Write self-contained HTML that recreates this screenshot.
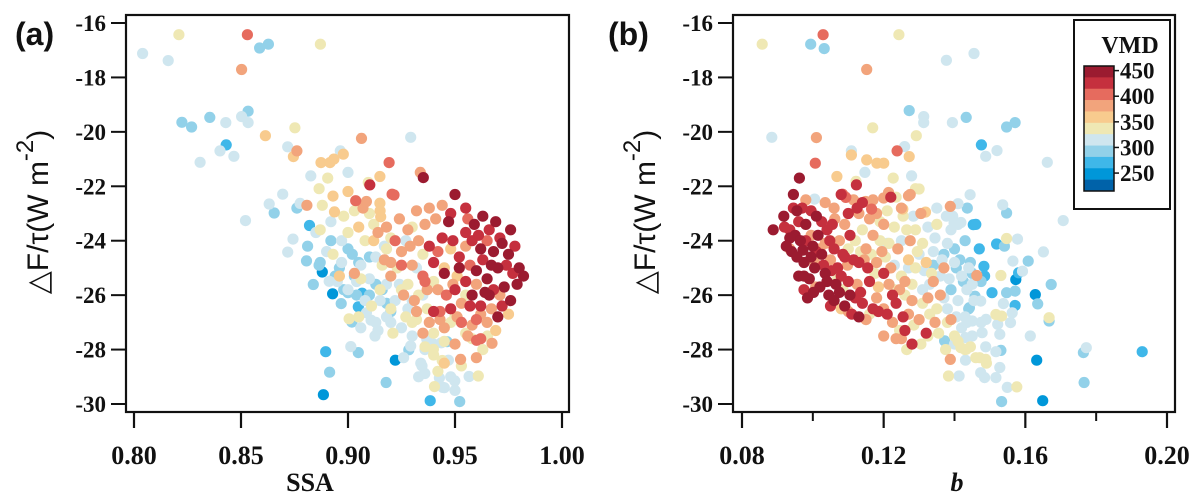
<!DOCTYPE html>
<html><head><meta charset="utf-8"><style>
body{margin:0;background:#fff;}
svg{display:block;font-family:"Liberation Serif",serif;}
.tk{font-weight:bold;font-size:23px;fill:#111;}
</style></head><body>
<svg id="chart" width="1198" height="496" viewBox="0 0 1198 496" xmlns="http://www.w3.org/2000/svg">
<g id="pa"></g>
<g id="pb"></g>
<g id="leg"></g>
</svg>
<script>
const yTicks=[-16,-18,-20,-22,-24,-26,-28,-30];
const xTicksA=[0.80,0.85,0.90,0.95,1.00];
const xTickLabelsA=["0.80","0.85","0.90","0.95","1.00"];
const xTicksB=[0.08,0.12,0.16,0.20];
const xTickLabelsB=["0.08","0.12","0.16","0.20"];
const xMinorB=[0.10,0.14,0.18];
const legendTicks=[450,400,350,300,250];
const binEdges=[237,259,281,304,326,348,372,394,416,438];
const binColors=["#0062a9","#0097d9","#3fb7e9","#92d1e9","#cfe6ef","#efe8b4","#f8cb8e","#f2a47c","#e66b5e","#c5303e","#9b1b30"];
// panel a: [SSA, dF/tau, VMD]
const pointsA=[
[0.821,-16.43,340],[0.853,-16.43,410],[0.8587,-16.92,285],[0.8628,-16.78,285],[0.8871,-16.78,340],[0.804,-17.12,310],[0.816,-17.38,310],[0.8503,-17.71,385],
[0.8533,-19.24,285],[0.8533,-19.66,310],[0.8503,-19.44,310],[0.8224,-19.65,285],[0.8269,-19.82,285],[0.8354,-19.47,285],[0.8429,-19.66,310],[0.8431,-20.48,265],
[0.8402,-20.7,310],[0.8467,-20.9,310],[0.8309,-21.12,310],[0.8752,-19.85,340],[0.8614,-20.14,360],[0.9063,-20.24,390],[0.9293,-20.2,310],[0.8718,-20.55,310],
[0.8761,-20.7,390],[0.8745,-20.91,370],[0.8964,-20.7,310],[0.8874,-21.13,350],[0.8916,-21.13,360],[0.8934,-21.0,360],[0.8978,-20.82,360],[0.9192,-21.13,410],
[0.8826,-21.62,310],[0.9,-21.49,310],[0.8905,-21.7,340],[0.9095,-21.86,340],[0.9102,-21.95,430],[0.9149,-21.64,370],[0.9338,-21.49,390],[0.9352,-21.68,450],
[0.8865,-22.09,340],[0.8695,-22.29,310],[0.8632,-22.65,310],[0.8655,-22.98,285],[0.8761,-22.8,285],[0.8776,-22.63,310],[0.8521,-23.26,310],[0.8808,-22.7,380],
[0.893,-22.36,370],[0.8937,-22.94,370],[0.9,-22.19,370],[0.9036,-22.53,410],[0.9086,-22.56,390],[0.9149,-22.62,370],[0.9153,-23.12,370],[0.9206,-22.29,410],
[0.9215,-22.32,410],[0.882,-23.44,265],[0.8743,-23.94,310],[0.8811,-24.2,285],[0.8718,-24.42,310],[0.8806,-24.74,285],[0.8865,-24.9,285],[0.888,-25.15,250],
[0.8838,-25.61,285],[0.8928,-25.95,240],[0.8912,-25.49,310],[0.9,-25.91,285],[0.8968,-26.31,285],[0.9066,-25.93,265],[0.9048,-26.43,265],[0.9005,-26.87,340],
[0.9018,-26.99,285],[0.9086,-26.65,310],[0.9108,-26.92,310],[0.9013,-27.89,310],[0.9048,-28.11,285],[0.8896,-28.08,265],[0.8914,-28.83,285],[0.8885,-29.66,240],
[0.9126,-27.5,310],[0.9178,-29.21,285],[0.9221,-28.39,250],[0.9284,-28.01,285],[0.9293,-27.87,310],[0.9384,-29.88,265],[0.9522,-29.91,285],[0.9443,-29.39,310],
[0.9404,-29.36,340],[0.9469,-28.39,310],[0.9526,-28.36,380],[0.9566,-28.99,310],[0.9609,-28.97,340],[0.9359,-28.88,310],[0.9346,-28.6,310],[0.9427,-29.04,310],
[0.9499,-29.15,310],[0.9601,-27.66,410],[0.9673,-27.77,390],[0.9652,-27.5,340],[0.9463,-27.71,285],[0.9436,-27.75,310],[0.9368,-27.62,310],[0.9399,-27.99,340],
[0.950,-22.3,450],[0.963,-23.1,450],[0.976,-23.6,450],[0.947,-23.3,440],[0.955,-23.7,430],[0.966,-23.6,420],[0.972,-24.1,440],[0.968,-24.4,450],[0.975,-24.5,440],
[0.962,-24.3,450],[0.958,-24.0,420],[0.980,-25.0,440],[0.982,-25.3,450],[0.977,-25.2,430],[0.970,-25.0,450],[0.965,-25.4,440],[0.960,-25.1,450],[0.955,-25.5,430],
[0.973,-25.7,440],[0.968,-25.8,420],[0.976,-26.2,450],[0.970,-26.8,450],[0.962,-26.4,420],[0.958,-26.0,440],[0.950,-25.8,430],[0.945,-25.2,440],[0.940,-24.8,420],
[0.944,-23.9,430],[0.952,-24.6,430],[0.957,-24.9,410],[0.963,-24.7,420],[0.966,-26.0,440],[0.948,-26.5,420],[0.953,-27.0,410],[0.940,-26.6,430],[0.936,-25.5,410],
[0.938,-24.2,420],[0.971,-23.9,430],[0.955,-22.8,420],[0.960,-26.9,400],[0.945,-27.2,390],
[0.932,-22.9,390],[0.938,-22.8,380],[0.941,-23.2,390],[0.928,-23.6,380],[0.933,-24.0,390],[0.925,-24.4,380],[0.93,-24.9,390],[0.935,-25.3,400],[0.942,-25.8,380],
[0.948,-24.3,370],[0.955,-24.2,380],[0.951,-25.3,360],[0.96,-25.6,380],[0.967,-26.5,380],[0.975,-26.7,370],[0.958,-27.1,390],[0.962,-27.6,400],[0.95,-27.8,380],
[0.945,-28.5,370],[0.938,-27.0,380],[0.932,-26.6,390],[0.926,-26.0,380],[0.92,-25.3,390],[0.917,-24.7,380],[0.912,-24.0,370],[0.918,-23.5,380],[0.915,-22.9,370],
[0.905,-23.5,370],[0.903,-25.2,380],[0.922,-24.0,400],[0.925,-24.9,410],[0.946,-26.0,410],[0.953,-26.3,390],[0.965,-27.0,380],[0.969,-27.3,360],
[0.91,-23.0,340],[0.908,-24.0,340],[0.9,-23.7,340],[0.912,-23.4,340],[0.918,-24.3,345],[0.923,-25.0,340],[0.928,-25.6,345],[0.933,-26.0,340],[0.937,-26.5,340],
[0.93,-27.0,340],[0.94,-27.4,340],[0.945,-27.7,345],[0.94,-28.2,340],[0.942,-28.8,340],[0.935,-24.5,345],[0.94,-25.5,340],[0.945,-25.0,360],[0.95,-26.8,345],
[0.955,-26.0,340],[0.958,-27.6,340],[0.963,-28.0,345],[0.955,-27.4,340],[0.927,-26.8,345],[0.92,-26.5,340],[0.915,-25.8,345],[0.905,-26.8,340],[0.893,-24.5,340],
[0.896,-25.3,360],[0.887,-23.6,340],
[0.892,-23.3,310],[0.897,-24.0,310],[0.902,-24.5,300],[0.906,-24.9,310],[0.91,-25.4,310],[0.913,-24.6,310],[0.918,-25.6,310],[0.922,-26.2,310],[0.918,-26.8,310],
[0.913,-27.0,310],[0.925,-27.2,310],[0.93,-27.5,310],[0.928,-26.5,310],[0.935,-26.0,310],[0.932,-25.0,310],[0.927,-24.0,310],[0.895,-25.5,310],[0.89,-24.4,310],
[0.885,-23.7,310],[0.9,-25.8,310],[0.908,-26.2,310],[0.914,-27.3,310],[0.94,-27.8,310],[0.934,-28.5,310],[0.945,-29.4,310],[0.948,-29.0,310],
[0.9,-24.3,285],[0.905,-24.8,285],[0.91,-24.6,285],[0.896,-25.0,285],[0.916,-25.8,285],[0.92,-26.6,285],[0.898,-25.8,285],[0.913,-25.6,285],[0.904,-26.0,285],
[0.887,-24.8,285],[0.892,-24.0,285],
[0.959,-23.4,440],[0.967,-24.9,450],[0.974,-24.9,430],[0.979,-25.6,440],[0.964,-25.9,450],[0.952,-25.0,440],[0.949,-24.0,430],[0.961,-23.8,420],[0.969,-23.3,440],
[0.957,-26.4,430],[0.972,-26.4,420],[0.948,-23.0,420],[0.942,-24.4,410],[0.956,-23.2,410],[0.978,-24.2,420],[0.943,-26.6,410],[0.965,-24.0,410],
[0.936,-23.4,390],[0.944,-22.7,390],[0.929,-24.2,380],[0.937,-25.8,390],[0.943,-26.9,380],[0.951,-26.8,390],[0.956,-27.5,380],[0.962,-26.7,390],[0.971,-26.0,380],
[0.949,-25.6,390],[0.924,-23.2,380],[0.931,-26.2,380],[0.92,-24.8,380],[0.914,-23.7,390],[0.907,-22.8,380],[0.935,-27.4,380],[0.96,-28.3,390],
[0.916,-24.9,345],[0.92,-23.9,345],[0.906,-25.4,345],[0.925,-25.8,345],[0.932,-26.9,345],[0.936,-27.9,345],[0.944,-28.4,345],[0.948,-27.0,345],[0.953,-28.6,345],
[0.93,-23.5,345],[0.898,-23.1,345],[0.888,-22.7,345],[0.921,-27.4,345],[0.911,-26.4,345],[0.903,-22.9,345],
[0.904,-25.5,310],[0.915,-26.2,310],[0.92,-27.0,310],[0.924,-25.6,310],[0.93,-26.2,310],[0.936,-28.0,310],[0.926,-28.3,310],[0.897,-24.8,310],[0.906,-27.2,310],
[0.917,-24.2,310],[0.933,-29.0,310],[0.95,-29.5,310],
[0.903,-25.3,285],[0.91,-26.0,285],[0.918,-26.3,285],[0.894,-25.3,285]
];
// panel b: [b, dF/tau, VMD]
const pointsB=[
[0.0857,-16.78,340],[0.1029,-16.43,410],[0.0994,-16.78,285],[0.1032,-16.94,285],[0.1243,-16.43,340],[0.1152,-17.71,390],[0.1377,-17.37,310],[0.1455,-17.12,310],
[0.0884,-20.2,310],[0.1010,-20.21,390],[0.1007,-21.15,410],[0.1272,-19.22,285],[0.1313,-19.44,310],[0.1313,-19.66,310],[0.1169,-19.85,340],[0.1292,-20.14,340],
[0.1394,-19.66,310],[0.1433,-19.47,285],[0.1547,-19.82,285],[0.1571,-19.66,285],[0.1476,-20.48,265],[0.1488,-20.9,310],[0.152,-20.69,310],[0.1662,-21.12,310],
[0.1707,-23.26,310],[0.1109,-20.7,310],[0.1109,-20.85,360],[0.1152,-21.03,370],[0.1181,-21.15,370],[0.120,-21.15,370],[0.1238,-20.7,410],[0.1259,-20.54,310],
[0.1272,-20.91,370],[0.1147,-21.49,310],[0.1068,-21.64,370],[0.1122,-21.82,340],[0.1123,-21.95,430],[0.1227,-21.7,340],[0.1279,-21.62,310],[0.129,-22.09,340],
[0.1005,-22.47,310],[0.1084,-22.29,410],[0.1093,-22.41,410],[0.1128,-22.62,310],[0.1149,-22.56,390],[0.1166,-22.84,410],[0.12,-22.43,390],[0.1214,-22.23,390],
[0.127,-22.35,390],[0.1254,-22.84,370],[0.1318,-22.95,370],[0.1284,-23.1,310],[0.1388,-22.74,390],[0.141,-22.64,310],[0.1444,-22.31,310],[0.1436,-22.8,285],
[0.1536,-22.68,310],[0.1547,-22.98,285],[0.1377,-23.1,310],[0.1399,-23.35,310],[0.1418,-23.33,310],[0.1453,-23.41,265],[0.1578,-23.94,310],[0.1547,-23.92,340],
[0.1519,-24.12,265],[0.1541,-24.2,285],[0.1651,-24.41,310],[0.1608,-24.75,285],[0.1565,-24.75,310],[0.1592,-25.12,310],[0.1581,-25.18,265],[0.1573,-25.43,250],
[0.1673,-25.61,285],[0.1628,-25.98,240],[0.1635,-26.32,285],[0.1667,-26.95,285],[0.1667,-26.83,340],[0.1614,-27.5,310],[0.1764,-28.11,285],[0.1772,-27.93,310],
[0.1766,-29.21,285],[0.193,-28.08,265],[0.1632,-28.39,250],[0.1649,-29.88,250],[0.1533,-29.91,285],[0.1549,-29.39,310],[0.1576,-29.37,340],[0.1528,-28.66,310],
[0.1517,-29.03,310],[0.1485,-29.03,310],[0.1474,-28.85,310],[0.1388,-28.36,380],[0.1383,-28.97,340],[0.1413,-28.97,310],[0.1431,-28.39,310],[0.1531,-28.03,285],
[0.1517,-28.08,310],[0.1488,-27.9,310],[0.1488,-28.36,340],[0.1471,-28.3,340],[0.1372,-27.68,285],[0.1402,-27.78,310],[0.1431,-27.56,310],[0.1418,-27.93,340],
[0.1433,-27.99,340],[0.1478,-27.38,310],[0.1489,-26.89,310],[0.1522,-27.07,310],[0.1528,-27.44,310],[0.1558,-27.01,310],[0.1547,-25.91,285],[0.1571,-25.85,285],
[0.1538,-26.31,310],[0.1571,-26.38,265],[0.1563,-26.65,310],[0.1506,-25.91,265],[0.1517,-26.71,340],[0.1533,-26.77,340],[0.1458,-26.04,285],[0.1474,-26.22,310],
[0.1442,-26.46,285],[0.145,-26.95,310],[0.1483,-24.94,265],[0.1485,-25.3,265],[0.1463,-25.28,380],[0.1531,-25.28,340],
[0.0888,-23.6,450],[0.0918,-23.1,450],[0.0945,-22.3,450],[0.0962,-21.7,450],[0.095,-23.8,450],[0.094,-24.4,450],[0.0965,-24.0,450],[0.0975,-24.8,450],[0.096,-25.3,450],
[0.099,-25.4,450],[0.1005,-25.0,450],[0.1,-24.2,450],[0.102,-25.7,450],[0.1045,-26.0,450],[0.106,-26.2,450],[0.1075,-25.9,450],[0.1105,-26.0,450],[0.113,-26.8,450],
[0.098,-23.4,450],[0.1015,-23.8,450],[0.1025,-24.5,450],[0.0985,-26.1,450],[0.101,-23.1,450],[0.0972,-24.35,450],[0.1035,-25.2,450],
[0.092,-23.5,420],[0.097,-22.8,420],[0.096,-23.3,420],[0.098,-24.0,420],[0.101,-24.4,420],[0.0975,-25.8,420],[0.104,-23.6,420],[0.106,-24.3,420],[0.103,-24.9,420],
[0.108,-25.3,420],[0.11,-25.5,420],[0.112,-26.1,420],[0.109,-24.6,420],[0.1055,-23.4,420],[0.107,-25.0,420],[0.114,-26.3,420],[0.117,-26.5,420],[0.12,-25.2,420],
[0.116,-25.5,420],[0.113,-24.8,420],[0.1105,-23.8,420],[0.114,-22.6,420],[0.108,-22.3,420],[0.1125,-22.8,420],[0.121,-26.7,420],[0.1235,-26.3,420],[0.128,-27.8,420],
[0.1255,-26.8,420],[0.132,-27.4,420],[0.122,-22.4,420],
[0.0935,-24.3,390],[0.0995,-23.8,390],[0.1008,-25.7,390],[0.102,-24.3,390],[0.105,-24.7,390],[0.1075,-24.0,390],[0.109,-23.4,390],[0.11,-26.6,390],[0.1125,-25.6,390],
[0.115,-24.3,390],[0.117,-23.8,390],[0.113,-23.0,390],[0.118,-26.1,390],[0.12,-26.5,390],[0.1225,-27.0,390],[0.12,-27.5,390],[0.125,-27.6,390],[0.13,-26.9,390],
[0.128,-26.2,390],[0.126,-25.5,390],[0.122,-25.0,390],[0.118,-24.8,390],[0.116,-23.2,390],[0.12,-23.4,390],[0.117,-22.5,390],[0.125,-22.8,390],[0.1305,-23.0,390],
[0.1275,-22.3,390],[0.134,-25.5,390],[0.136,-26.0,390],[0.139,-26.9,390],[0.137,-25.0,390],[0.124,-24.3,390],[0.1275,-24.0,390],[0.1035,-22.6,390],[0.106,-22.8,390],[0.098,-22.5,390],
[0.105,-24.0,345],[0.107,-25.4,345],[0.11,-24.3,345],[0.108,-26.5,360],[0.112,-24.0,345],[0.119,-24.0,345],[0.1205,-24.6,345],[0.123,-23.5,345],[0.1255,-23.1,345],
[0.129,-23.6,345],[0.131,-24.1,345],[0.127,-24.7,360],[0.125,-25.3,345],[0.129,-25.0,345],[0.132,-24.8,360],[0.128,-25.6,345],[0.131,-26.3,345],[0.133,-26.7,345],
[0.1325,-27.5,345],[0.1285,-27.1,345],[0.126,-26.0,345],[0.123,-25.8,345],[0.1185,-25.7,360],[0.116,-26.7,345],[0.1245,-27.3,345],[0.135,-26.5,345],[0.138,-27.0,345],
[0.14,-27.5,345],[0.143,-28.0,345],[0.146,-28.3,345],[0.149,-28.5,345],[0.141,-27.7,345],[0.1165,-24.5,345],[0.114,-23.6,345],[0.121,-22.9,345],[0.1235,-22.4,345],
[0.13,-22.1,345],[0.135,-23.4,345],
[0.121,-24.1,310],[0.123,-24.9,310],[0.127,-25.0,310],[0.13,-24.5,310],[0.133,-25.6,310],[0.136,-25.3,310],[0.134,-24.4,310],[0.138,-24.1,310],[0.139,-23.6,310],
[0.141,-23.4,310],[0.14,-24.8,310],[0.142,-25.3,310],[0.144,-25.0,310],[0.141,-26.2,310],[0.138,-26.5,310],[0.137,-26.1,310],[0.145,-25.6,310],[0.143,-26.8,310],
[0.142,-27.2,310],[0.145,-27.5,310],[0.14,-27.8,310],[0.131,-25.8,310],[0.125,-24.0,310],[0.135,-22.8,310],[0.1325,-23.5,310],
[0.137,-24.5,285],[0.14,-24.3,285],[0.143,-24.0,285],[0.1445,-24.8,285],[0.1425,-25.5,285],[0.139,-25.8,285],[0.134,-24.9,285],[0.144,-26.5,285],[0.147,-24.3,265],[0.146,-23.4,265],
[0.0955,-22.9,450],[0.0935,-23.9,450],[0.0955,-24.6,450],[0.0975,-25.3,450],[0.1002,-25.9,450],[0.104,-25.5,450],[0.1065,-25.6,450],[0.109,-26.4,450],[0.0995,-24.6,450],[0.0925,-24.2,450],
[0.0945,-22.8,420],[0.0935,-23.6,420],[0.0995,-22.9,420],[0.1025,-23.3,420],[0.1048,-24.0,420],[0.1052,-25.1,420],[0.1085,-24.5,420],[0.1115,-24.7,420],[0.1135,-25.9,420],
[0.1155,-25.0,420],[0.1185,-26.6,420],[0.111,-26.7,420],[0.1225,-26.0,420],[0.126,-27.3,420],[0.11,-23.0,420],[0.105,-26.4,420],
[0.1005,-24.8,390],[0.1035,-24.1,390],[0.1062,-23.2,390],[0.1098,-24.9,390],[0.1145,-24.7,390],[0.1195,-24.4,390],[0.1215,-25.6,390],[0.1245,-25.8,390],[0.127,-26.7,390],
[0.1345,-27.0,390],[0.1325,-26.1,390],[0.118,-23.0,390],[0.1115,-22.5,390],[0.115,-26.9,390],[0.1235,-27.6,390],
[0.1085,-25.8,345],[0.1135,-24.4,345],[0.1175,-25.2,345],[0.1215,-24.1,345],[0.1265,-23.6,345],[0.1295,-24.4,345],[0.1335,-25.2,345],[0.1355,-27.4,345],[0.1305,-27.8,345],
[0.1375,-28.0,345],[0.1445,-27.9,345],[0.1265,-28.0,345],[0.119,-23.3,345],
[0.1345,-23.9,310],[0.1365,-24.7,310],[0.1385,-25.4,310],[0.1405,-26.8,310],[0.1435,-27.0,310],[0.1455,-26.2,310],[0.1395,-23.1,310],[0.1315,-25.1,310],[0.1475,-27.0,310],[0.1435,-25.8,310],
[0.1415,-24.7,285],[0.145,-25.2,285],[0.1405,-25.0,285],[0.1475,-25.5,285]
];
const NS="http://www.w3.org/2000/svg";
function mk(parent,tag,attrs,txt){const e=document.createElementNS(NS,tag);for(const k in attrs)e.setAttribute(k,attrs[k]);if(txt!==undefined)e.textContent=txt;parent.appendChild(e);return e;}
function colorFor(v){let i=0;while(i<binEdges.length&&v>=binEdges[i])i++;return binColors[i];}
const yTop=-16,yBot=-30,pyTop=23,pyBot=404;
function yS(v){return pyTop+(yTop-v)/(yTop-yBot)*(pyBot-pyTop);}

function panel(g,cfg){
  const pts=cfg.points.slice().sort((a,b)=>a[2]-b[2]);
  const pg=mk(g,'g',{});
  
  
  pts.forEach(p=>{
    const c=mk(pg,'circle',{cx:cfg.xS(p[0]).toFixed(1),cy:yS(p[1]).toFixed(1),r:5.6,fill:colorFor(p[2])});
    
    
  });
  const box=mk(g,'rect',{x:cfg.L,y:15,width:cfg.R-cfg.L,height:397,fill:'none',stroke:'#111','stroke-width':2.2});
  
  
  yTicks.forEach(t=>{
    const y=yS(t);
    mk(g,'line',{x1:cfg.L-15,x2:cfg.L,y1:y,y2:y,stroke:'#111','stroke-width':2});
    const tx=mk(g,'text',{x:cfg.L-20,y:y+8,'text-anchor':'end',class:'tk'},String(t));
    
    
  });
  cfg.xTicks.forEach((t,i)=>{
    const x=cfg.xS(t);
    mk(g,'line',{x1:x,x2:x,y1:412,y2:428,stroke:'#111','stroke-width':2.2});
    const tx=mk(g,'text',{x:x,y:464,'text-anchor':'middle',class:'tk',style:'font-size:26px'},cfg.xLabels[i]);
    
    
  });
  (cfg.minor||[]).forEach(t=>{const x=cfg.xS(t);mk(g,'line',{x1:x,x2:x,y1:412,y2:421,stroke:'#111','stroke-width':2});});
  const xt=mk(g,'text',{x:cfg.xTitleX,y:491,'text-anchor':'middle',class:'tk',style:'font-size:26px'+(cfg.italic?';font-style:italic':'')},cfg.xTitle);
  
  
  const yt=mk(g,'text',{transform:`translate(${cfg.yTitleX},212) rotate(-90)`,'text-anchor':'middle',style:'font-family:"Liberation Sans",sans-serif;font-size:30px;fill:#111'});
  yt.innerHTML='△F/τ(W m<tspan dy="-15" font-size="24">-2</tspan><tspan dy="15">)</tspan>';
  
  
  const pl=mk(g,'text',{x:cfg.labX,y:45,style:'font-family:"Liberation Sans",sans-serif;font-size:32px;font-weight:bold;fill:#111'},cfg.label);
  
  
}
panel(document.getElementById('pa'),{points:pointsA,L:126,R:569,xS:v=>134+(v-0.8)/0.2*428,xTicks:xTicksA,xLabels:xTickLabelsA,xTitle:'SSA',xTitleX:310,yTitleX:48,label:'(a)',labX:15});
panel(document.getElementById('pb'),{points:pointsB,L:733,R:1175,xS:v=>742+(v-0.08)/0.12*425,xTicks:xTicksB,xLabels:xTickLabelsB,minor:xMinorB,xTitle:'b',xTitleX:957,italic:true,yTitleX:655,label:'(b)',labX:608});

const lg=document.getElementById('leg');
mk(lg,'rect',{x:1074,y:20,width:96,height:189,fill:'#fff',stroke:'#111','stroke-width':2});
const vt=mk(lg,'text',{x:1130,y:53,'text-anchor':'middle',class:'tk',style:'font-size:24px'},'VMD');


const cbTop=66,cbBot=191,cbMax=459,cbMin=215;
function cbY(v){return cbTop+(cbMax-v)/(cbMax-cbMin)*(cbBot-cbTop);}
const bh=(cbBot-cbTop)/binColors.length;
binColors.slice().reverse().forEach((c,i)=>{
  const r=mk(lg,'rect',{x:1084,y:cbTop+i*bh,width:30,height:bh+0.3,fill:c});
  
  
});
mk(lg,'rect',{x:1084,y:cbTop,width:30,height:cbBot-cbTop,fill:'none',stroke:'#111','stroke-width':1.5});
legendTicks.forEach(t=>{
  const y=cbY(t);
  mk(lg,'line',{x1:1114,x2:1119,y1:y,y2:y,stroke:'#111','stroke-width':1.5});
  const tx=mk(lg,'text',{x:1120,y:y+8,class:'tk',style:'font-size:23px'},String(t));
  
  
});
</script>
</body></html>
